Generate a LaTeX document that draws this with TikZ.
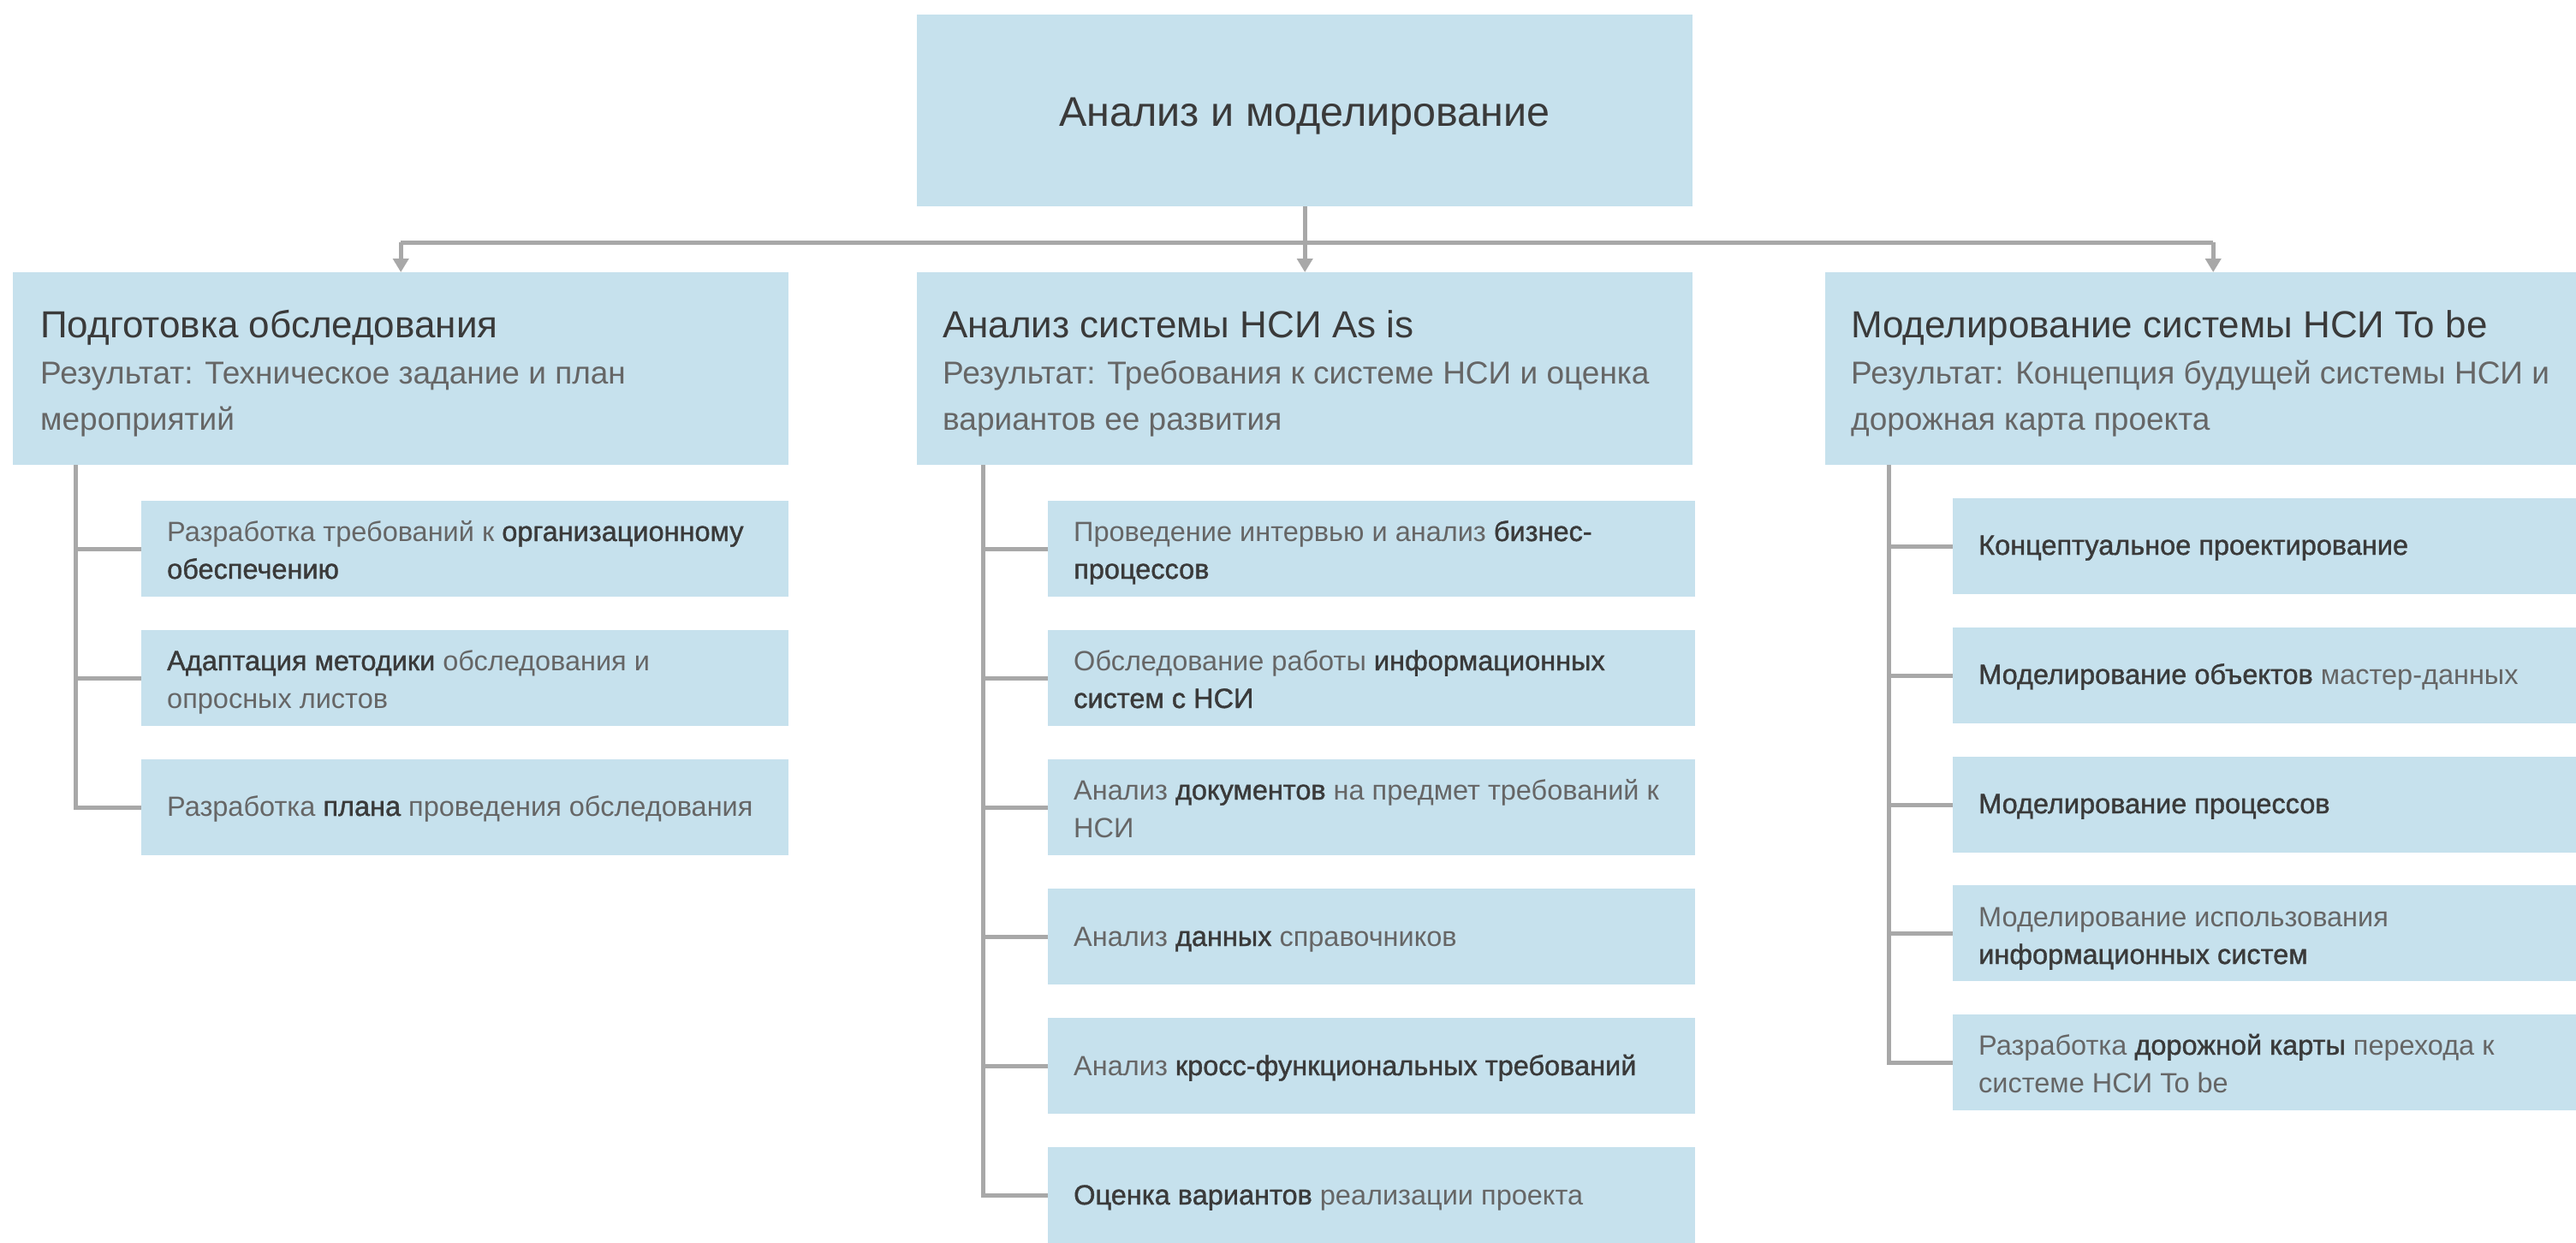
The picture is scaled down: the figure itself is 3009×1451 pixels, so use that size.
\documentclass[tikz,border=0pt]{standalone}
\usepackage{fontspec}
\setmainfont{Liberation Sans}
\newfontfamily\medfont{Liberation Sans}[FakeBold=1.2]
\usetikzlibrary{arrows.meta}
\definecolor{boxblue}{HTML}{C6E1ED}
\definecolor{linegray}{HTML}{A8A8A8}
\definecolor{txtlight}{HTML}{666666}
\definecolor{txtdark}{HTML}{3A3A3A}
\newcommand\bb[1]{{\medfont\color{txtdark}#1}}
\tikzset{
 box/.style={fill=boxblue, draw=none, anchor=north west, inner sep=0pt, minimum height=112pt, minimum width=756pt},
 bigbox/.style={box, minimum width=906pt, minimum height=225pt},
 conn/.style={draw=linegray, line width=5pt},
 arr/.style={conn, -{Triangle[length=16pt,width=18pt]}},
 ctext/.style={anchor=base west, inner sep=0pt, text=txtlight, font=\fontsize{32.5}{44}\selectfont},
 stext/.style={anchor=base west, inner sep=0pt, text=txtlight, font=\fontsize{37}{54}\selectfont},
 htext/.style={anchor=base west, inner sep=0pt, text=txtdark, font=\fontsize{44}{54}\selectfont},
 ttext/.style={anchor=base, inner sep=0pt, text=txtdark, font=\fontsize{48.5}{54}\selectfont},
}
\begin{document}
\begin{tikzpicture}[x=1pt,y=-1pt]
\useasboundingbox (0,0) rectangle (3009,1451);
\fill[white] (0,0) rectangle (3009,1451);
\clip (0,0) rectangle (3009,1451);

% top
\node[bigbox, minimum height=224pt] (top) at (1071,17) {};
\node[ttext] (toptxt) at (1524,147) {Анализ и моделирование};

% headers
\node[bigbox] (hdrA) at (15,318) {};
\node[bigbox] (hdrB) at (1071,318) {};
\node[bigbox] (hdrC) at (2132,318) {};

\node[htext] (hA1) at (47,394) {Подготовка обследования};
\node[stext] (hA2) at (47,448) {Результат: Техническое задание и план};
\node[stext] (hA3) at (47,502) {мероприятий};

\node[htext] (hB1) at (1101,394) {Анализ системы НСИ As is};
\node[stext] (hB2) at (1101,448) {Результат: Требования к системе НСИ и оценка};
\node[stext] (hB3) at (1101,502) {вариантов ее развития};

\node[htext] (hC1) at (2162,394) {Моделирование системы НСИ To be};
\node[stext] (hC2) at (2162,448) {Результат: Концепция будущей системы НСИ и};
\node[stext] (hC3) at (2162,502) {дорожная карта проекта};

% bus and arrows
\coordinate (busy) at (0,283);
\draw[conn] (hdrA.north |- busy) -- (hdrC.north |- busy);
\draw[arr] (hdrA.north |- busy) -- (hdrA.north);
\draw[arr] (top.south) -- (hdrB.north);
\draw[arr] (hdrC.north |- busy) -- (hdrC.north);

% left children
\node[box] (a1) at (165,585) {};
\node[box] (a2) at (165,736) {};
\node[box] (a3) at (165,887) {};
\node[ctext] (a1t1) at (195,632) {Разработка требований к \bb{организационному}};
\node[ctext] (a1t2) at (195,676) {\bb{обеспечению}};
\node[ctext] (a2t1) at (195,783) {\bb{Адаптация методики} обследования и};
\node[ctext] (a2t2) at (195,827) {опросных листов};
\node[ctext] (a3t1) at (195,953) {Разработка \bb{плана} проведения обследования};

% middle children
\node[box] (b1) at (1224,585) {};
\node[box] (b2) at (1224,736) {};
\node[box] (b3) at (1224,887) {};
\node[box] (b4) at (1224,1038) {};
\node[box] (b5) at (1224,1189) {};
\node[box] (b6) at (1224,1340) {};
\node[ctext] (b1t1) at (1254,632) {Проведение интервью и анализ \bb{бизнес-}};
\node[ctext] (b1t2) at (1254,676) {\bb{процессов}};
\node[ctext] (b2t1) at (1254,783) {Обследование работы \bb{информационных}};
\node[ctext] (b2t2) at (1254,827) {\bb{систем с НСИ}};
\node[ctext] (b3t1) at (1254,934) {Анализ \bb{документов} на предмет требований к};
\node[ctext] (b3t2) at (1254,978) {НСИ};
\node[ctext] (b4t1) at (1254,1105) {Анализ \bb{данных} справочников};
\node[ctext] (b5t1) at (1254,1256) {Анализ \bb{кросс-функциональных требований}};
\node[ctext] (b6t1) at (1254,1407) {\bb{Оценка вариантов} реализации проекта};

% right children
\node[box] (c1) at (2281,582) {};
\node[box] (c2) at (2281,733) {};
\node[box] (c3) at (2281,884) {};
\node[box] (c4) at (2281,1034) {};
\node[box] (c5) at (2281,1185) {};
\node[ctext] (c1t1) at (2311,648) {\bb{Концептуальное проектирование}};
\node[ctext] (c2t1) at (2311,799) {\bb{Моделирование объектов} мастер-данных};
\node[ctext] (c3t1) at (2311,950) {\bb{Моделирование процессов}};
\node[ctext] (c4t1) at (2311,1082) {Моделирование использования};
\node[ctext] (c4t2) at (2311,1126) {\bb{информационных систем}};
\node[ctext] (c5t1) at (2311,1232) {Разработка \bb{дорожной карты} перехода к};
\node[ctext] (c5t2) at (2311,1276) {системе НСИ To be};

% spines
\coordinate (sA) at (88,543);
\coordinate (sB) at (1148,543);
\coordinate (sC) at (2206,543);
\draw[conn] (sA) |- (a3.west);
\draw[conn] (sA |- a1.west) -- (a1.west);
\draw[conn] (sA |- a2.west) -- (a2.west);
\draw[conn] (sB) |- (b6.west);
\foreach \n in {b1,b2,b3,b4,b5} \draw[conn] (sB |- \n.west) -- (\n.west);
\draw[conn] (sC) |- (c5.west);
\foreach \n in {c1,c2,c3,c4} \draw[conn] (sC |- \n.west) -- (\n.west);
\end{tikzpicture}
\end{document}
